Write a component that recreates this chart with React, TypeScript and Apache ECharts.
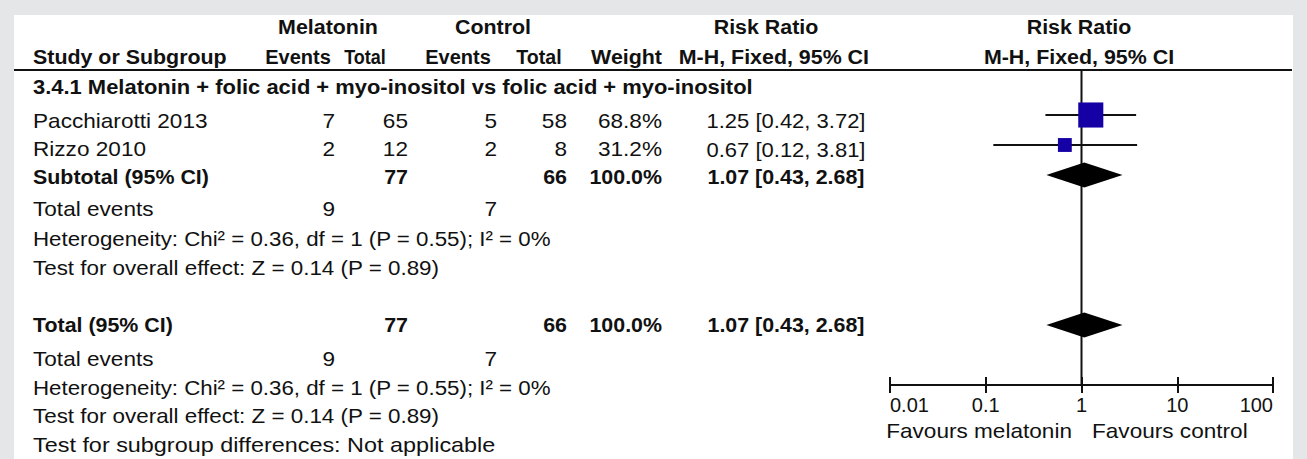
import React, { useEffect, useRef } from "react";
import * as echarts from "echarts";

// ---- data ----
const studies = ["Pacchiarotti 2013", "Rizzo 2010"];
const melEvents = [7, 2];
const melTotal = [65, 12];
const ctlEvents = [5, 2];
const ctlTotal = [58, 8];
const weights = [68.8, 31.2];
const riskRatio = [1.25, 0.67];
const ciLow = [0.42, 0.12];
const ciHigh = [3.72, 3.81];
// pooled estimate: [RR, lower, upper]
const pooled = [1.07, 0.43, 2.68];
const subgroupTitle = "3.4.1 Melatonin + folic acid + myo-inositol vs folic acid + myo-inositol";
const heterogeneity = "Heterogeneity: Chi² = 0.36, df = 1 (P = 0.55); I² = 0%";
const overallEffect = "Test for overall effect: Z = 0.14 (P = 0.89)";
const subgroupDiff = "Test for subgroup differences: Not applicable";
const tickLabels = ["0.01", "0.1", "1", "10", "100"];
const favourLeft = "Favours melatonin";
const favourRight = "Favours control";

// ---- layout ----
const W = 1307;
const H = 459;
const FONT = '"Liberation Sans", Arial, Helvetica, sans-serif';
const INK = "#111111";
const BOX = "#1500a5";
// forest rows (one unit = one table row)
const studyRows = [1.5, 2.5];
const subtotalRow = 3.5;
const totalRow = 8.5;
const rowMax = 10.5;

const fmt2 = (v: number) => v.toFixed(2);
const ciText = (e: number, l: number, h: number) => `${fmt2(e)} [${fmt2(l)}, ${fmt2(h)}]`;
const sum = (a: number[]) => a.reduce((s, v) => s + v, 0);

type Align = "left" | "right" | "center";
function txt(text: string, x: number, y: number, align: Align, bold = false, sx?: number) {
  return {
    type: "text",
    x,
    y,
    scaleX: sx ?? (bold ? 1.07 : 1.13),
    silent: true,
    style: {
      text,
      x: 0,
      y: 0,
      align,
      verticalAlign: "middle",
      textAlign: align,
      textVerticalAlign: "middle",
      fontSize: 20,
      fontFamily: FONT,
      fontWeight: bold ? "bold" : "normal",
      fill: INK,
    },
  };
}

function buildGraphics() {
  const g: any[] = [];
  // white panel over the grey page
  g.push({ type: "rect", z: -10, silent: true, shape: { x: 14, y: 15, width: 1279, height: H - 15 }, style: { fill: "#ffffff" } });
  // header rule
  g.push({ type: "line", silent: true, z: 5, shape: { x1: 14, y1: 70, x2: 1292, y2: 70 }, style: { stroke: INK, lineWidth: 2 } });

  // column headers
  g.push(txt("Melatonin", 328, 27, "center", true));
  g.push(txt("Control", 493, 27, "center", true));
  g.push(txt("Risk Ratio", 766, 27, "center", true));
  g.push(txt("Risk Ratio", 1079, 27, "center", true));
  g.push(txt("Study or Subgroup", 33, 57, "left", true));
  g.push(txt("Events", 298, 57, "center", true, 1.0));
  g.push(txt("Total", 365, 57, "center", true, 0.9));
  g.push(txt("Events", 458, 57, "center", true, 1.0));
  g.push(txt("Total", 539, 57, "center", true, 0.98));
  g.push(txt("Weight", 662, 57, "right", true));
  g.push(txt("M-H, Fixed, 95% CI", 869, 57, "right", true));
  g.push(txt("M-H, Fixed, 95% CI", 1079, 57, "center", true));

  g.push(txt(subgroupTitle, 33, 87, "left", true, 1.097));

  // study rows
  const rowY = [121, 149.5];
  studies.forEach((s, i) => {
    const y = rowY[i];
    g.push(txt(s, 33, y, "left"));
    g.push(txt(String(melEvents[i]), 335, y, "right"));
    g.push(txt(String(melTotal[i]), 408, y, "right"));
    g.push(txt(String(ctlEvents[i]), 497, y, "right"));
    g.push(txt(String(ctlTotal[i]), 567, y, "right"));
    g.push(txt(`${weights[i].toFixed(1)}%`, 662, y, "right"));
    g.push(txt(ciText(riskRatio[i], ciLow[i], ciHigh[i]), 786, y, "center", false, 1.1));
  });

  const totalWeight = `${sum(weights).toFixed(1)}%`;
  const pooledText = ciText(pooled[0], pooled[1], pooled[2]);

  // subtotal block
  g.push(txt("Subtotal (95% CI)", 33, 177, "left", true));
  g.push(txt(String(sum(melTotal)), 408, 177, "right", true));
  g.push(txt(String(sum(ctlTotal)), 567, 177, "right", true));
  g.push(txt(totalWeight, 662, 177, "right", true));
  g.push(txt(pooledText, 786, 177, "center", true));
  g.push(txt("Total events", 33, 209, "left"));
  g.push(txt(String(sum(melEvents)), 335, 209, "right"));
  g.push(txt(String(sum(ctlEvents)), 497, 209, "right"));
  g.push(txt(heterogeneity, 33, 239, "left", false, 1.115));
  g.push(txt(overallEffect, 33, 267.5, "left", false, 1.12));

  // overall block
  g.push(txt("Total (95% CI)", 33, 325, "left", true));
  g.push(txt(String(sum(melTotal)), 408, 325, "right", true));
  g.push(txt(String(sum(ctlTotal)), 567, 325, "right", true));
  g.push(txt(totalWeight, 662, 325, "right", true));
  g.push(txt(pooledText, 786, 325, "center", true));
  g.push(txt("Total events", 33, 359, "left"));
  g.push(txt(String(sum(melEvents)), 335, 359, "right"));
  g.push(txt(String(sum(ctlEvents)), 497, 359, "right"));
  g.push(txt(heterogeneity, 33, 387.5, "left", false, 1.115));
  g.push(txt(overallEffect, 33, 416, "left", false, 1.12));
  g.push(txt(subgroupDiff, 33, 445.5, "left", false, 1.17));

  // favours captions under the scale
  g.push(txt(favourLeft, 1072, 431, "right"));
  g.push(txt(favourRight, 1092, 431, "left"));
  return g;
}

// square side grows with study weight
const boxSide = (w: number) => 1.05 * Math.pow(w, 0.75);

function App() {
  const ref = useRef<HTMLDivElement>(null);
  useEffect(() => {
    if (!ref.current) return;
    const chart = echarts.init(ref.current, undefined, { renderer: "svg" });

    const studyData = studies.map((_, i) => [riskRatio[i], ciLow[i], ciHigh[i], studyRows[i], weights[i]]);
    const diamondData = [
      [pooled[0], pooled[1], pooled[2], subtotalRow],
      [pooled[0], pooled[1], pooled[2], totalRow],
    ];

    const baseAxis = {
      type: "log",
      logBase: 10,
      min: 0.01,
      max: 100,
      interval: 1,
      gridIndex: 0,
      position: "bottom",
      splitLine: { show: false },
      minorTick: { show: false },
    };

    chart.setOption({
      animation: false,
      backgroundColor: "#e5e6e8",
      textStyle: { fontFamily: FONT },
      grid: { left: 890, right: 34, top: 70, bottom: 74, containLabel: false },
      xAxis: [
        {
          ...baseAxis,
          axisLine: { show: true, onZero: false, lineStyle: { color: INK, width: 2 } },
          axisTick: { show: true, inside: false, length: 8, lineStyle: { color: INK, width: 2 } },
          axisLabel: {
            show: true,
            color: INK,
            fontSize: 20,
            fontFamily: FONT,
            margin: 10,
            alignMinLabel: "left",
            alignMaxLabel: "right",
            formatter: (v: number) => tickLabels[Math.round(Math.log10(v)) + 2] ?? "",
          },
        },
        {
          ...baseAxis,
          axisLine: { show: false, onZero: false },
          axisTick: { show: true, inside: true, length: 8, lineStyle: { color: INK, width: 2 } },
          axisLabel: { show: false },
        },
      ],
      yAxis: { type: "value", min: 0, max: rowMax, inverse: true, show: false },
      graphic: buildGraphics(),
      series: [
        {
          // line of no effect
          type: "line",
          xAxisIndex: 0,
          data: [[1, 0], [1, rowMax]],
          symbol: "none",
          lineStyle: { color: INK, width: 2 },
          z: 1,
          silent: true,
        },
        {
          type: "custom",
          xAxisIndex: 0,
          z: 3,
          silent: true,
          data: studyData,
          renderItem: (_p: any, api: any) => {
            const row = api.value(3);
            const c = api.coord([api.value(0), row]);
            const lo = api.coord([api.value(1), row]);
            const hi = api.coord([api.value(2), row]);
            const s = boxSide(api.value(4));
            return {
              type: "group",
              children: [
                { type: "line", shape: { x1: lo[0], y1: c[1], x2: hi[0], y2: c[1] }, style: { stroke: INK, lineWidth: 1.8 } },
                { type: "rect", shape: { x: c[0] - s / 2, y: c[1] - s / 2, width: s, height: s }, style: { fill: BOX } },
              ],
            };
          },
        },
        {
          type: "custom",
          xAxisIndex: 0,
          z: 3,
          silent: true,
          data: diamondData,
          renderItem: (_p: any, api: any) => {
            const row = api.value(3);
            const c = api.coord([api.value(0), row]);
            const lo = api.coord([api.value(1), row]);
            const hi = api.coord([api.value(2), row]);
            const h = 12.5;
            return {
              type: "polygon",
              shape: { points: [[lo[0], c[1]], [c[0], c[1] - h], [hi[0], c[1]], [c[0], c[1] + h]] },
              style: { fill: "#000000" },
            };
          },
        },
      ],
    });
    return () => chart.dispose();
  }, []);

  return <div ref={ref} style={{ position: "fixed", left: 0, top: 0, width: W, height: H }} />;
}

export default App;
